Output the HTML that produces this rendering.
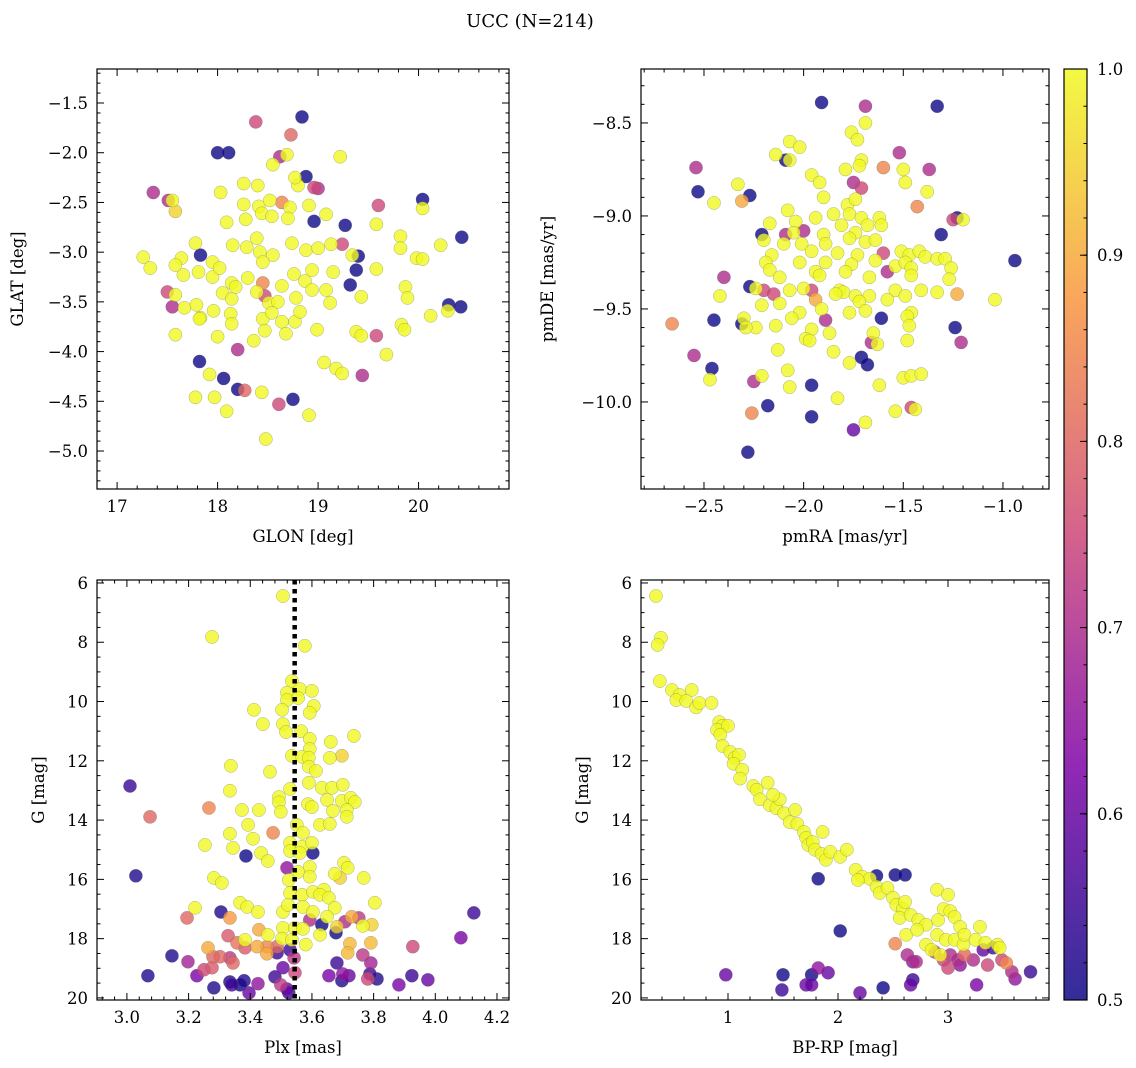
<!DOCTYPE html>
<html><head><meta charset="utf-8"><style>
body{margin:0;background:#fff;}
svg{display:block;font-family:"DejaVu Serif","Liberation Serif",serif;}
</style></head><body>
<svg id="fig" width="1136" height="1068" viewBox="0 0 1136 1068" xmlns="http://www.w3.org/2000/svg">
<text x="530" y="27" font-size="18" text-anchor="middle">UCC (N=214)</text>
</svg>
<script>
// Panel data: [x, y, probability]
const glonGlat = [
[18.84,-1.64,.5],[18.38,-1.69,.75],[18.73,-1.82,.8],[18.0,-2.0,.5],[18.11,-2.0,.5],[18.62,-2.04,.7],[18.69,-2.02,1],[19.22,-2.04,1],[18.55,-2.12,1],[18.88,-2.24,.5],[18.40,-2.33,1],[18.26,-2.31,1],[18.80,-2.33,1],[18.77,-2.25,1],[18.96,-2.35,.75],[19.0,-2.36,.7],[17.36,-2.40,.7],[18.03,-2.40,1],[17.51,-2.48,.7],[17.55,-2.48,1],[17.58,-2.59,.95],[18.26,-2.52,1],[18.41,-2.54,1],[18.52,-2.48,1],[18.64,-2.50,.85],[18.72,-2.55,1],[18.91,-2.53,1],[19.6,-2.53,.75],[20.04,-2.47,.5],[20.04,-2.56,1],[20.43,-2.85,.5],[18.09,-2.70,1],[18.28,-2.67,1],[18.44,-2.61,1],[18.54,-2.64,1],[18.70,-2.66,1],[18.96,-2.69,.5],[19.08,-2.62,1],[19.27,-2.73,.5],[19.58,-2.72,1],[19.82,-2.84,1],[20.22,-2.93,1],[17.26,-3.05,1],[17.33,-3.16,1],[17.64,-3.06,1],[17.78,-2.91,1],[17.83,-3.03,.5],[17.66,-3.23,1],[17.58,-3.13,1],[17.95,-3.10,1],[17.95,-3.25,1],[18.02,-3.16,1],[17.81,-3.20,1],[18.15,-2.93,1],[18.29,-2.95,1],[18.39,-2.86,1],[18.42,-3.0,1],[18.55,-3.03,1],[18.45,-3.10,1],[18.74,-2.91,1],[18.88,-2.98,1],[19.0,-2.96,1],[19.13,-2.92,1],[19.24,-2.92,.75],[19.34,-3.03,1],[19.40,-3.04,.5],[19.58,-3.17,1],[19.82,-2.96,1],[19.98,-3.06,1],[20.04,-3.07,1],[17.50,-3.40,.75],[17.55,-3.55,.7],[17.58,-3.43,1],[17.67,-3.56,1],[17.79,-3.53,1],[17.83,-3.66,1],[18.05,-3.41,1],[18.14,-3.31,1],[18.14,-3.47,1],[18.18,-3.35,1],[18.30,-3.26,1],[18.39,-3.40,1],[18.47,-3.44,.75],[18.45,-3.31,.85],[18.51,-3.51,1],[18.60,-3.50,1],[18.64,-3.34,1],[18.78,-3.46,1],[18.76,-3.22,1],[18.87,-3.29,1],[18.94,-3.38,1],[18.94,-3.18,1],[19.08,-3.38,1],[19.15,-3.20,1],[19.32,-3.33,.5],[19.38,-3.18,.5],[19.43,-3.45,1],[19.87,-3.35,1],[19.89,-3.46,1],[20.30,-3.53,.5],[20.42,-3.55,.5],[20.29,-3.59,1],[20.12,-3.64,1],[17.58,-3.83,1],[17.82,-3.67,1],[17.96,-3.59,1],[18.00,-3.85,1],[18.13,-3.62,1],[18.14,-3.72,1],[18.20,-3.98,.7],[18.36,-3.89,1],[18.45,-3.67,1],[18.47,-3.79,1],[18.54,-3.61,1],[18.64,-3.70,1],[18.68,-3.82,1],[18.77,-3.70,1],[18.82,-3.60,1],[18.99,-3.78,1],[19.12,-3.51,1],[19.06,-4.11,1],[19.18,-4.17,1],[19.38,-3.80,1],[19.43,-3.84,1],[19.58,-3.84,.75],[19.68,-4.03,1],[19.83,-3.73,1],[19.86,-3.78,1],[17.82,-4.10,.5],[17.92,-4.23,1],[18.06,-4.27,.5],[17.78,-4.46,1],[17.97,-4.46,1],[18.09,-4.60,1],[18.20,-4.38,.5],[18.27,-4.39,.8],[18.44,-4.41,1],[18.61,-4.53,.75],[18.75,-4.48,.5],[18.91,-4.64,1],[19.24,-4.22,1],[19.44,-4.24,.7],[18.48,-4.88,1]
];
const pmraPmde = [
[-1.91,-8.39,.5],[-1.69,-8.41,.7],[-1.33,-8.41,.5],[-1.69,-8.50,1],[-1.76,-8.55,1],[-1.73,-8.59,1],[-2.07,-8.60,1],[-2.02,-8.63,1],[-2.14,-8.67,1],[-1.52,-8.66,.7],[-2.54,-8.74,.7],[-2.09,-8.70,.5],[-2.07,-8.70,1],[-1.71,-8.70,1],[-1.72,-8.73,1],[-1.60,-8.74,.85],[-1.50,-8.75,1],[-1.37,-8.75,.7],[-1.79,-8.75,1],[-1.96,-8.78,1],[-1.92,-8.82,1],[-2.33,-8.83,1],[-1.75,-8.82,.7],[-1.49,-8.82,1],[-1.71,-8.85,.75],[-2.53,-8.87,.5],[-1.38,-8.87,1],[-2.27,-8.89,.5],[-1.90,-8.90,1],[-2.45,-8.93,1],[-2.31,-8.92,.9],[-1.78,-8.94,1],[-1.74,-8.91,1],[-1.43,-8.95,.85],[-2.08,-8.97,1],[-1.85,-8.99,1],[-1.77,-8.99,1],[-1.94,-9.01,1],[-1.71,-9.01,1],[-2.04,-9.03,1],[-1.62,-9.01,1],[-1.25,-9.02,.75],[-1.23,-9.01,.5],[-1.20,-9.02,1],[-2.17,-9.04,1],[-1.81,-9.05,1],[-1.68,-9.05,1],[-1.61,-9.05,1],[-2.09,-9.10,.7],[-2.05,-9.09,1],[-2.00,-9.08,.7],[-1.90,-9.10,1],[-1.74,-9.09,1],[-2.21,-9.10,.5],[-1.31,-9.10,.5],[-2.20,-9.13,1],[-2.10,-9.15,1],[-2.01,-9.15,1],[-1.89,-9.15,1],[-1.77,-9.12,1],[-1.69,-9.14,1],[-1.64,-9.13,1],[-2.16,-9.21,1],[-1.96,-9.19,1],[-1.83,-9.20,1],[-1.73,-9.21,1],[-1.60,-9.20,.75],[-1.51,-9.19,1],[-1.47,-9.21,1],[-1.42,-9.19,1],[-1.39,-9.22,1],[-1.33,-9.23,1],[-1.29,-9.23,1],[-0.94,-9.24,.5],[-2.19,-9.25,1],[-2.02,-9.25,1],[-1.89,-9.25,1],[-1.76,-9.26,1],[-1.64,-9.24,1],[-1.54,-9.27,1],[-1.49,-9.25,1],[-1.26,-9.28,1],[-2.17,-9.29,1],[-1.94,-9.30,1],[-1.79,-9.30,1],[-1.58,-9.30,.7],[-1.46,-9.28,1],[-2.40,-9.33,.7],[-2.12,-9.33,1],[-1.92,-9.32,1],[-1.67,-9.33,1],[-1.46,-9.32,1],[-1.27,-9.34,1],[-2.27,-9.38,.5],[-2.24,-9.39,1],[-2.20,-9.40,.75],[-2.07,-9.40,1],[-2.00,-9.39,1],[-1.96,-9.40,.75],[-1.82,-9.40,1],[-1.80,-9.41,1],[-1.54,-9.40,1],[-1.41,-9.40,1],[-2.42,-9.43,1],[-2.15,-9.42,.75],[-1.84,-9.42,1],[-1.74,-9.43,1],[-1.67,-9.43,1],[-1.49,-9.43,1],[-1.33,-9.41,1],[-1.23,-9.42,.9],[-2.21,-9.48,1],[-2.12,-9.47,1],[-1.94,-9.45,.9],[-1.72,-9.46,1],[-1.58,-9.45,1],[-1.04,-9.45,1],[-2.02,-9.52,1],[-1.91,-9.50,1],[-1.77,-9.52,1],[-1.69,-9.51,1],[-1.46,-9.52,1],[-2.30,-9.55,1],[-2.06,-9.55,1],[-1.89,-9.56,.7],[-1.61,-9.55,.5],[-1.48,-9.54,1],[-2.45,-9.56,.5],[-2.66,-9.58,.85],[-2.31,-9.58,.5],[-2.24,-9.60,1],[-2.14,-9.59,1],[-1.96,-9.61,1],[-1.87,-9.63,1],[-1.65,-9.63,1],[-1.47,-9.59,1],[-1.24,-9.60,.5],[-2.29,-9.60,1],[-1.99,-9.66,1],[-1.97,-9.67,1],[-1.66,-9.68,.7],[-1.63,-9.69,1],[-1.48,-9.67,1],[-1.21,-9.68,.7],[-2.13,-9.72,1],[-1.85,-9.73,1],[-2.55,-9.75,.7],[-1.71,-9.76,.5],[-1.68,-9.80,.5],[-1.77,-9.79,1],[-1.62,-9.91,1],[-2.46,-9.82,.5],[-2.08,-9.83,1],[-2.25,-9.89,.7],[-2.47,-9.88,1],[-2.21,-9.86,1],[-1.96,-9.91,.5],[-2.07,-9.92,1],[-1.50,-9.87,1],[-1.46,-9.86,1],[-1.41,-9.85,1],[-1.83,-9.98,1],[-1.46,-10.03,.75],[-1.44,-10.04,1],[-1.54,-10.05,1],[-2.18,-10.02,.5],[-2.26,-10.06,.85],[-1.96,-10.08,.5],[-1.69,-10.11,1],[-1.75,-10.15,.6],[-2.28,-10.27,.5]
];
const plxG = [
[3.506,6.44,1],[3.276,7.82,1],[3.577,8.12,1],[3.535,9.31,1],[3.519,9.70,1],[3.561,9.58,1],[3.600,9.64,1],[3.519,9.95,1],[3.555,9.88,1],[3.606,10.15,1],[3.412,10.28,1],[3.503,10.28,1],[3.593,10.38,1],[3.441,10.76,1],[3.506,10.76,1],[3.516,11.03,1],[3.565,11.0,1],[3.593,11.26,1],[3.661,11.36,1],[3.736,11.16,1],[3.593,11.6,1],[3.535,11.83,1],[3.568,11.87,1],[3.658,11.9,1],[3.697,11.83,.95],[3.590,11.9,1],[3.337,12.17,1],[3.464,12.37,1],[3.590,12.2,1],[3.613,12.34,1],[3.590,12.74,1],[3.529,12.95,1],[3.632,12.91,1],[3.665,12.91,1],[3.700,12.81,1],[3.010,12.85,.55],[3.334,13.01,1],[3.493,13.22,1],[3.493,13.4,1],[3.649,13.32,1],[3.697,13.35,1],[3.726,13.25,1],[3.739,13.39,1],[3.266,13.59,.85],[3.373,13.66,1],[3.428,13.66,1],[3.499,13.72,1],[3.587,13.46,1],[3.600,13.56,1],[3.668,13.69,1],[3.713,13.66,1],[3.713,13.89,1],[3.075,13.89,.8],[3.393,14.16,1],[3.474,14.43,.85],[3.334,14.46,1],[3.551,14.16,1],[3.571,14.43,1],[3.626,14.16,1],[3.658,14.13,1],[3.409,14.63,1],[3.529,14.77,1],[3.568,14.9,1],[3.600,14.77,1],[3.253,14.84,1],[3.344,14.94,1],[3.529,15.04,1],[3.561,15.11,1],[3.603,15.11,.5],[3.386,15.21,.5],[3.435,15.11,1],[3.457,15.38,1],[3.519,15.61,.65],[3.593,15.58,1],[3.555,15.75,1],[3.704,15.44,1],[3.716,15.61,1],[3.674,15.81,1],[3.691,15.95,.95],[3.768,15.95,1],[3.593,15.91,1],[3.029,15.88,.52],[3.282,15.95,1],[3.308,16.12,1],[3.525,16.02,1],[3.529,16.46,1],[3.568,16.52,1],[3.603,16.42,1],[3.639,16.35,1],[3.626,16.52,1],[3.655,16.62,1],[3.804,16.79,1],[3.367,16.79,1],[3.390,16.93,1],[3.221,16.96,1],[3.425,17.1,1],[3.506,17.1,1],[3.522,16.86,1],[3.571,16.93,1],[3.603,17.1,1],[3.674,16.96,1],[3.649,17.26,1],[3.305,17.1,.52],[4.125,17.13,.55],[3.195,17.3,.8],[3.334,17.3,.88],[3.593,17.37,.7],[3.632,17.53,.5],[3.729,17.26,.9],[3.752,17.3,.72],[3.707,17.43,.7],[3.794,17.53,.95],[3.765,17.57,1],[3.681,17.6,.95],[3.506,17.64,1],[3.545,17.64,1],[3.571,17.67,1],[3.428,17.7,.9],[3.626,17.87,1],[3.678,17.8,.5],[3.457,17.87,1],[3.328,17.9,.78],[3.383,18.04,1],[3.357,18.14,.82],[3.422,18.27,.9],[3.454,18.27,.85],[3.487,18.27,.8],[3.503,18.0,1],[3.535,18.04,1],[3.580,18.2,1],[3.723,18.17,.92],[3.791,18.14,.92],[3.927,18.27,.75],[4.083,17.97,.62],[3.263,18.31,.9],[3.383,18.31,.78],[3.716,18.48,.92],[3.529,18.38,.55],[3.487,18.48,.55],[3.454,18.51,.9],[3.302,18.61,.8],[3.279,18.61,.8],[3.334,18.65,.72],[3.344,18.82,.8],[3.146,18.58,.52],[3.198,18.78,.68],[3.542,18.65,.72],[3.765,18.55,.72],[3.791,18.82,.68],[3.681,18.82,.55],[3.276,18.98,.78],[3.250,19.05,.75],[3.506,18.98,.6],[3.068,19.25,.52],[3.227,19.25,.62],[3.545,19.15,.75],[3.655,19.25,.62],[3.700,19.19,.65],[3.720,19.25,.6],[3.788,19.19,.55],[3.811,19.36,.52],[3.781,19.36,.75],[3.924,19.25,.55],[3.976,19.39,.6],[3.882,19.56,.62],[3.697,19.42,.52],[3.480,19.29,.55],[3.425,19.52,.65],[3.334,19.46,.52],[3.380,19.42,.52],[3.367,19.56,.5],[3.340,19.56,.55],[3.282,19.66,.52],[3.396,19.83,.6],[3.499,19.56,.72],[3.519,19.7,.6],[3.525,19.83,.55]
];
const bprpG = [
[0.345,6.44,1],[0.39,7.85,1],[0.36,8.09,1],[0.38,9.31,1],[0.49,9.61,1],[0.56,9.78,1],[0.67,9.61,1],[0.53,9.95,1],[0.62,9.98,1],[0.71,10.2,1],[0.74,10.05,1],[0.85,10.05,1],[0.92,10.69,1],[0.95,10.82,1],[0.9,10.96,1],[1.0,10.82,1],[0.93,11.12,1],[0.95,11.5,1],[1.02,11.7,1],[1.06,11.9,1],[1.1,11.8,1],[1.05,12.1,1],[1.13,12.3,1],[1.11,12.6,1],[1.23,12.85,1],[1.26,12.98,1],[1.36,12.74,1],[1.29,13.3,1],[1.38,13.5,1],[1.44,13.6,1],[1.51,13.77,1],[1.47,13.3,1],[1.41,13.15,1],[1.56,14.07,1],[1.63,14.13,1],[1.61,13.66,1],[1.69,14.4,1],[1.71,14.6,1],[1.73,14.84,1],[1.77,14.74,1],[1.79,15.0,1],[1.85,15.14,1],[1.89,15.34,1],[1.86,14.4,1],[1.93,15.07,1],[2.02,15.24,1],[2.08,15.0,1],[2.16,15.68,1],[2.22,15.91,1],[2.29,15.98,1],[2.18,16.02,1],[2.35,16.25,1],[2.38,16.46,1],[2.45,16.29,1],[2.5,16.62,1],[2.53,16.86,1],[2.59,17.0,1],[2.61,16.76,1],[2.56,17.3,1],[2.66,17.2,1],[2.73,17.37,1],[2.8,17.53,1],[2.91,17.37,1],[2.9,16.35,1],[3.0,16.52,1],[2.96,17.0,1],[3.02,17.07,1],[3.06,17.27,1],[3.11,17.6,1],[2.9,17.87,1],[2.98,18.04,1],[2.8,18.2,1],[2.85,18.38,1],[2.93,18.55,1],[3.06,18.04,1],[3.14,18.2,1],[3.15,17.87,1],[3.25,18.04,1],[3.34,18.14,1],[3.45,18.2,1],[3.47,18.31,1],[2.62,17.87,1],[2.72,17.7,1],[3.29,17.6,1],
[1.82,15.98,.5],[2.35,15.88,.5],[2.52,15.85,.5],[2.61,15.85,.5],[2.02,17.74,.5],[2.52,18.17,.85],[2.63,18.55,.7],[2.71,18.78,.7],[2.96,18.72,.75],[2.88,18.45,.75],[3.02,18.55,.7],[3.09,18.72,.7],[3.15,18.55,.8],[3.23,18.72,.7],[3.32,18.38,.6],[3.36,18.89,.75],[3.53,18.82,.85],[3.58,19.12,.7],[3.61,19.36,.65],[3.75,19.12,.55],[3.26,19.56,.62],[3.41,18.31,.55],[3.49,18.72,.75],[3.11,18.89,.65],[3.0,18.99,.75],[2.68,18.78,.65],[0.98,19.22,.6],[1.5,19.22,.5],[1.76,19.22,.5],[1.82,18.99,.65],[1.91,19.15,.6],[1.71,19.56,.6],[1.76,19.56,.6],[1.49,19.73,.55],[2.2,19.83,.6],[2.41,19.66,.5],[2.68,19.39,.55],[2.66,19.56,.6]
];
const plxMedian = 3.544;
const cbTicks = [0.5,0.6,0.7,0.8,0.9,1.0];

const NS='http://www.w3.org/2000/svg';
const svg=document.getElementById('fig');
function mk(tag,attrs,parent){const e=document.createElementNS(NS,tag);for(const k in attrs)e.setAttribute(k,attrs[k]);(parent||svg).appendChild(e);return e;}
const stops=[[0,[13,8,135]],[0.25,[126,3,168]],[0.5,[204,71,120]],[0.75,[248,149,64]],[1,[240,249,33]]];
function plasma(v){let t=Math.max(0,Math.min(1,(v-0.5)/0.5));for(let i=0;i<stops.length-1;i++){const a=stops[i],b=stops[i+1];if(t<=b[0]){const f=(t-a[0])/(b[0]-a[0]);const c=a[1].map((x,j)=>Math.round(x+(b[1][j]-x)*f));return `rgb(${c[0]},${c[1]},${c[2]})`;}}return 'rgb(240,249,33)';}
function fmt(v,d){const s=v.toFixed(d);return v<0?'\u2212'+s.slice(1):s;}

function panel(cfg){
  const {L,T,R,B,x0,x1,y0,y1,data,name}=cfg;
  const g=mk('g',{});
  
  
  const sx=v=>L+(v-x0)/(x1-x0)*(R-L);
  const sy=v=>T+(v-y0)/(y1-y0)*(B-T);
  const clip=mk('clipPath',{id:'c'+name},g);mk('rect',{x:L,y:T,width:R-L,height:B-T},clip);
  const pg=mk('g',{'clip-path':'url(#c'+name+')'},g);
  
  
  const sorted=data.slice().sort((a,b)=>a[2]-b[2]);
  sorted.forEach(d=>{
    const c=mk('circle',{cx:sx(d[0]),cy:sy(d[1]),r:6.6,fill:plasma(d[2]),'fill-opacity':0.8,stroke:'#666','stroke-opacity':0.5,'stroke-width':0.5},pg);
    
    
  });
  if(cfg.vline!==undefined){
    const l=mk('line',{x1:sx(cfg.vline),x2:sx(cfg.vline),y1:T,y2:B,stroke:'#000','stroke-width':4.5,'stroke-dasharray':'4.5,4.5'},pg);
    
    
  }
  const fr=mk('rect',{x:L,y:T,width:R-L,height:B-T,fill:'none',stroke:'#000','stroke-width':1.2},g);
  
  
  const tk=mk('g',{stroke:'#000','stroke-width':1},g);
  const eps=1e-9;
  for(let v=Math.ceil(x0/cfg.xmin-eps)*cfg.xmin;v<=x1+eps;v+=cfg.xmin){
    const X=sx(v);const maj=Math.abs(v/cfg.xmaj-Math.round(v/cfg.xmaj))<1e-6;const len=maj?7:3.5;
    mk('line',{x1:X,x2:X,y1:B,y2:B-len},tk);mk('line',{x1:X,x2:X,y1:T,y2:T+len},tk);
    if(maj){const t=mk('text',{x:X,y:B+23,'font-size':16.5,'text-anchor':'middle'},g);t.textContent=fmt(v,cfg.xd);
      
      }
  }
  const ya=Math.min(y0,y1),yb=Math.max(y0,y1);
  for(let v=Math.ceil(ya/cfg.ymin-eps)*cfg.ymin;v<=yb+eps;v+=cfg.ymin){
    const Y=sy(v);const maj=Math.abs(v/cfg.ymaj-Math.round(v/cfg.ymaj))<1e-6;const len=maj?7:3.5;
    mk('line',{x1:L,x2:L+len,y1:Y,y2:Y},tk);mk('line',{x1:R,x2:R-len,y1:Y,y2:Y},tk);
    if(maj){const t=mk('text',{x:L-9,y:Y+6,'font-size':16.5,'text-anchor':'end'},g);t.textContent=fmt(v,cfg.yd);
      
      }
  }
  const xl=mk('text',{x:(L+R)/2,y:B+53,'font-size':16.5,'text-anchor':'middle'},g);xl.textContent=cfg.xlabel;
  
  
  const yx=cfg.ylx,yy=(T+B)/2;
  const yl=mk('text',{x:yx,y:yy,'font-size':16.5,'text-anchor':'middle',transform:`rotate(-90 ${yx} ${yy})`},g);yl.textContent=cfg.ylabel;
  
  
}
panel({name:'glon-glat',L:97,T:69,R:509,B:489,x0:16.8,x1:20.9,y0:-1.158,y1:-5.382,data:glonGlat,xmaj:1,xmin:0.2,ymaj:0.5,ymin:0.1,xd:0,yd:1,xlabel:'GLON [deg]',ylabel:'GLAT [deg]',ylx:23});
panel({name:'pmra-pmde',L:641,T:69,R:1049,B:489,x0:-2.816,x1:-0.769,y0:-8.210,y1:-10.468,data:pmraPmde,xmaj:0.5,xmin:0.1,ymaj:0.5,ymin:0.1,xd:1,yd:1,xlabel:'pmRA [mas/yr]',ylabel:'pmDE [mas/yr]',ylx:553});
panel({name:'plx-g',L:97,T:580,R:509,B:1000,x0:2.903,x1:4.239,y0:5.9,y1:20.07,data:plxG,xmaj:0.2,xmin:0.04,ymaj:2,ymin:0.5,xd:1,yd:0,xlabel:'Plx [mas]',ylabel:'G [mag]',ylx:44,vline:plxMedian});
panel({name:'bprp-g',L:641,T:580,R:1049,B:1000,x0:0.209,x1:3.918,y0:5.9,y1:20.07,data:bprpG,xmaj:1,xmin:0.2,ymaj:2,ymin:0.5,xd:0,yd:0,xlabel:'BP-RP [mag]',ylabel:'G [mag]',ylx:588});

(function(){
  const L=1064,R=1087,T=69,B=1000;
  const g=mk('g',{});
  
  
  const defs=mk('defs',{},g);
  const lg=mk('linearGradient',{id:'cbg',x1:0,y1:1,x2:0,y2:0},defs);
  for(let i=0;i<=20;i++){const v=0.5+i*0.025;mk('stop',{offset:i/20,'stop-color':plasma(v),'stop-opacity':0.85},lg);}
  mk('rect',{x:L,y:T,width:R-L,height:B-T,fill:'url(#cbg)',stroke:'#000','stroke-width':1.2},g);
  const sy=v=>B-(v-0.5)/0.5*(B-T);
  for(let v=0.5;v<=1.0001;v+=0.02){const Y=sy(v);mk('line',{x1:R,x2:R-3.5,y1:Y,y2:Y,stroke:'#000'},g);}
  cbTicks.forEach(v=>{const Y=sy(v);mk('line',{x1:R,x2:R-7,y1:Y,y2:Y,stroke:'#000'},g);
    const t=mk('text',{x:R+10,y:Y+6,'font-size':16.5},g);t.textContent=v.toFixed(1);
    
    });
})();
</script>
</body></html>
